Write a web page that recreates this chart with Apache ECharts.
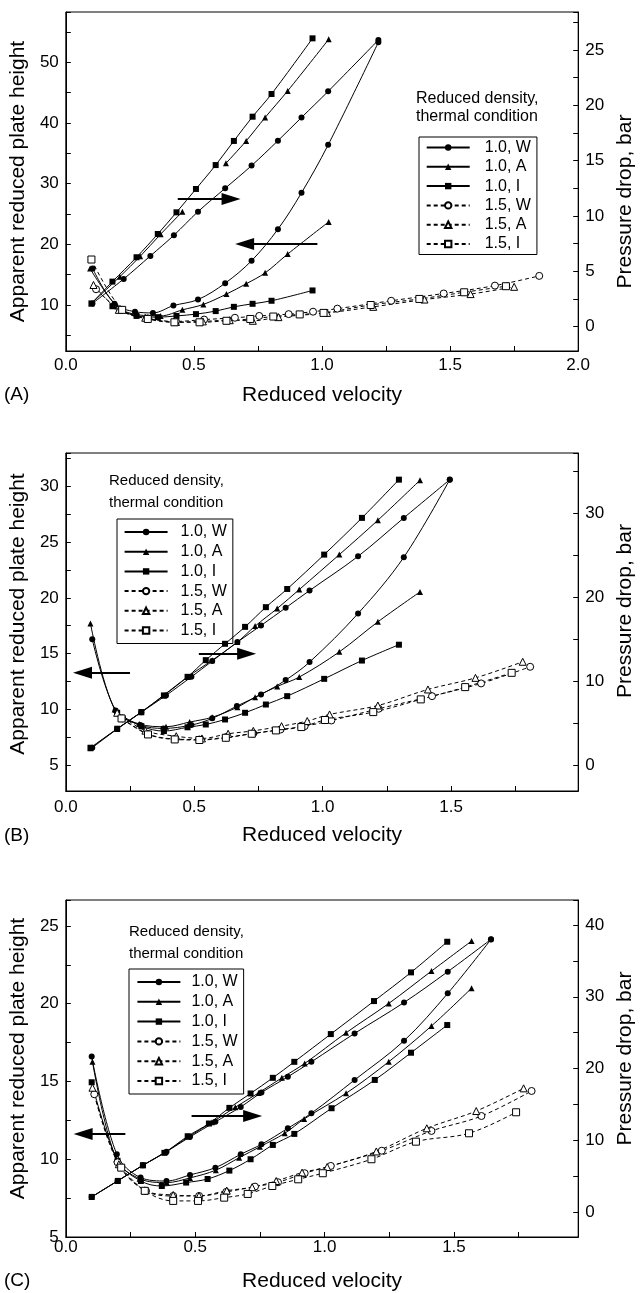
<!DOCTYPE html>
<html><head><meta charset="utf-8">
<script src="https://cdn.jsdelivr.net/npm/echarts@6/dist/echarts.min.js"></script>
<style>html,body{margin:0;padding:0;background:#fff}#c{width:644px;height:1293px}</style>
</head><body><div id="c"></div>
<script>
// ---------- DATA: panel A ----------
const A_H_10W = [[0.105,16.0],[0.19,10.2],[0.27,8.9],[0.34,8.7],[0.42,9.9],[0.516,10.9],[0.622,13.6],[0.725,17.3],[0.828,22.5],[0.92,28.5],[1.024,36.4],[1.22,53.3]];
const A_H_10A = [[0.095,16.0],[0.2,9.8],[0.28,8.4],[0.37,8.2],[0.455,9.2],[0.537,10.1],[0.627,11.8],[0.704,13.5],[0.778,15.3],[0.866,18.4],[1.026,23.7]];
const A_H_10I = [[0.182,9.8],[0.276,8.2],[0.359,8.0],[0.432,8.2],[0.508,8.5],[0.585,9.0],[0.656,9.7],[0.729,10.2],[0.803,10.7],[0.963,12.4]];
const A_P_10W = [[0.104,2.1],[0.226,4.31],[0.33,6.39],[0.422,8.26],[0.516,10.39],[0.622,12.5],[0.725,14.55],[0.828,16.8],[0.92,18.9],[1.024,21.26],[1.22,25.9]];
const A_P_10A = [[0.1,2.1],[0.211,4.52],[0.29,6.35],[0.37,8.35],[0.455,10.39],[0.54,null],[0.625,14.76],[0.704,16.78],[0.778,18.9],[0.866,21.3],[1.026,25.96]];
const A_P_10I = [[0.1,2.1],[0.182,4.07],[0.276,6.27],[0.359,8.37],[0.432,10.33],[0.508,12.44],[0.585,14.6],[0.656,16.78],[0.729,18.97],[0.803,21.02],[0.963,26.05]];
const A_H_15W = [[0.118,12.6],[0.21,9.3],[0.32,7.8],[0.43,7.3],[0.54,7.6],[0.66,7.9],[0.755,8.2],[0.87,8.5],[0.965,8.9],[1.06,9.4],[1.27,10.7],[1.475,11.9],[1.675,13.2],[1.848,14.8]];
const A_H_15A = [[0.108,13.3],[0.207,9.2],[0.31,7.9],[0.43,7.2],[0.535,7.3],[0.64,7.5],[0.73,7.4],[0.83,8.0],[1.02,8.7],[1.2,9.7],[1.4,10.9],[1.58,11.8],[1.75,13.0]];
const A_H_15I = [[0.1,17.5],[0.22,9.2],[0.32,7.7],[0.424,7.15],[0.522,7.15],[0.627,7.4],[0.72,7.7],[0.81,8.1],[0.913,8.45],[1.006,8.7],[1.19,10.0],[1.38,11.0],[1.555,12.1],[1.718,13.1]];
// ---------- DATA: panel B ----------
const B_H_10W = [[0.103,16.3],[0.194,9.9],[0.29,8.6],[0.38,8.3],[0.489,8.6],[0.57,9.2],[0.666,10.3],[0.76,11.34],[0.856,12.63],[0.949,14.24],[1.138,18.6],[1.316,23.64],[1.495,30.6]];
const B_H_10A = [[0.096,17.7],[0.19,10.0],[0.286,8.7],[0.39,8.45],[0.482,8.87],[0.57,9.3],[0.668,10.2],[0.737,11.1],[0.823,12.06],[0.909,12.9],[1.065,15.16],[1.215,17.85],[1.379,20.53]];
const B_H_10I = [[0.2,9.7],[0.294,8.5],[0.382,8.06],[0.474,8.4],[0.545,8.65],[0.62,9.1],[0.698,9.7],[0.779,10.44],[0.862,11.19],[1.006,12.74],[1.153,14.38],[1.297,15.8]];
const B_P_10W = [[0.103,2.06],[0.2,4.3],[0.294,6.3],[0.39,8.3],[0.489,10.52],[0.57,12.4],[0.668,14.66],[0.76,16.64],[0.856,18.75],[0.949,20.81],[1.138,24.9],[1.316,29.48],[1.495,34.04]];
const B_P_10A = [[0.096,2.0],[0.2,4.3],[0.294,6.3],[0.38,8.3],[0.474,10.5],[0.57,12.5],[0.668,14.66],[0.737,16.57],[0.823,18.67],[0.909,20.93],[1.065,25.1],[1.215,29.2],[1.379,33.97]];
const B_P_10I = [[0.096,2.06],[0.2,4.33],[0.294,6.32],[0.382,8.3],[0.474,10.52],[0.545,12.51],[0.62,14.46],[0.698,16.48],[0.779,18.83],[0.862,21.0],[1.006,25.1],[1.153,29.48],[1.297,34.04]];
const B_H_15W = [[0.22,9.2],[0.32,7.8],[0.424,7.35],[0.52,7.3],[0.623,7.5],[0.73,7.85],[0.836,8.2],[0.93,8.5],[1.034,9.01],[1.218,10.06],[1.426,11.19],[1.617,12.33],[1.808,13.82]];
const B_H_15A = [[0.2,9.7],[0.31,8.1],[0.43,7.6],[0.53,7.4],[0.632,7.82],[0.73,8.08],[0.84,8.5],[0.94,8.96],[1.027,9.55],[1.215,10.35],[1.41,11.79],[1.595,12.83],[1.779,14.27]];
const B_H_15I = [[0.217,9.19],[0.32,7.76],[0.424,7.31],[0.52,7.26],[0.623,7.46],[0.724,7.82],[0.818,8.12],[0.917,8.42],[1.009,9.05],[1.197,9.76],[1.382,10.9],[1.555,12.0],[1.736,13.28]];
// ---------- DATA: panel C ----------
const C_H_10W = [[0.1,16.6],[0.197,10.32],[0.289,8.82],[0.389,8.6],[0.48,8.99],[0.578,9.46],[0.676,10.32],[0.756,10.96],[0.858,11.99],[0.949,12.96],[1.116,15.1],[1.307,17.62],[1.476,20.67],[1.643,24.14]];
const C_H_10A = [[0.103,16.27],[0.195,10.0],[0.285,8.75],[0.39,8.5],[0.48,8.8],[0.58,9.3],[0.67,10.1],[0.75,10.8],[0.846,11.67],[0.921,12.59],[1.083,14.24],[1.248,16.27],[1.413,18.57],[1.568,21.0]];
const C_H_10I = [[0.1,14.95],[0.2,9.9],[0.29,8.6],[0.371,8.28],[0.465,8.5],[0.548,8.73],[0.632,9.27],[0.714,10.0],[0.8,10.92],[0.883,11.63],[1.027,13.28],[1.194,15.1],[1.334,16.85],[1.474,18.63]];
const C_P_10W = [[0.1,2.1],[0.2,4.33],[0.298,6.5],[0.389,8.4],[0.48,10.47],[0.578,12.56],[0.676,14.65],[0.756,16.65],[0.858,18.84],[0.949,20.93],[1.116,24.89],[1.307,29.2],[1.476,33.5],[1.643,38.0]];
const C_P_10A = [[0.1,2.1],[0.2,4.33],[0.298,6.5],[0.385,8.35],[0.475,10.5],[0.565,12.5],[0.655,14.6],[0.745,16.6],[0.835,18.7],[0.923,20.7],[1.083,24.98],[1.248,29.07],[1.413,33.58],[1.568,37.77]];
const C_P_10I = [[0.1,2.1],[0.201,4.33],[0.298,6.52],[0.381,8.24],[0.471,10.56],[0.553,12.33],[0.632,14.51],[0.714,16.52],[0.8,18.7],[0.883,20.93],[1.024,24.8],[1.191,29.4],[1.334,33.4],[1.474,37.67]];
const C_H_15W = [[0.11,14.18],[0.2,9.8],[0.31,7.96],[0.415,7.64],[0.515,7.64],[0.62,7.9],[0.731,8.24],[0.82,8.52],[0.923,9.1],[1.024,9.57],[1.221,10.55],[1.413,11.82],[1.606,12.78],[1.8,14.39]];
const C_H_15A = [[0.103,14.6],[0.205,9.68],[0.305,8.0],[0.415,7.7],[0.515,7.65],[0.622,7.98],[0.72,8.2],[0.813,8.6],[0.913,9.14],[1.01,9.5],[1.2,10.5],[1.395,11.99],[1.586,13.1],[1.769,14.56]];
const C_H_15I = [[0.214,9.46],[0.305,7.97],[0.415,7.32],[0.511,7.32],[0.612,7.53],[0.703,7.77],[0.798,8.28],[0.898,8.71],[0.993,9.1],[1.181,10.0],[1.353,11.13],[1.558,11.67],[1.74,13.02]];
// arrows: [xStart, xEndCentre, y] in left-axis units
const A_ARROWS = [[0.437,0.645,27.46],[0.982,0.698,20.05]];
const B_ARROWS = [[0.518,0.704,15.0],[0.25,0.065,13.28]];
const C_ARROWS = [[0.486,0.722,12.78],[0.23,0.067,11.63]];
const NAMES = ['1.0, W','1.0, A','1.0, I','1.5, W','1.5, A','1.5, I'];

const FONT = 'Liberation Sans, Arial, Helvetica, sans-serif';
const STY = {
  '1.0, W': {symbol:'circle', size:6, open:false, dash:false},
  '1.0, A': {symbol:'triangle', size:6, open:false, dash:false},
  '1.0, I': {symbol:'rect', size:6, open:false, dash:false},
  '1.5, W': {symbol:'circle', size:7, open:true, dash:true},
  '1.5, A': {symbol:'triangle', size:7, open:true, dash:true},
  '1.5, I': {symbol:'rect', size:7, open:true, dash:true}
};
const isMult = (v, s) => Math.abs(v / s - Math.round(v / s)) < 1e-6;

function mk(name, data, gi, yi) {
  const s = STY[name];
  return {
    type:'line', name, data, xAxisIndex:gi, yAxisIndex:yi, smooth:0.35,
    symbol:s.symbol, symbolSize:s.size, showSymbol:true, connectNulls:false,
    lineStyle:{color:'#000', width:1, type: s.dash ? [4,3] : 'solid'},
    itemStyle:{color: s.open ? '#fff' : '#000', borderColor:'#000', borderWidth: s.open ? 1 : 0},
    emphasis:{disabled:true}, z: s.open ? 3 : 2
  };
}
function arrows(arr) {
  return {
    silent:true, symbol:['none','triangle'], symbolSize:[1,14],
    lineStyle:{color:'#000', width:2, type:'solid'}, label:{show:false},
    emphasis:{disabled:true},
    data: arr.map(a => [{coord:[a[0], a[2]], symbol:'none'}, {coord:[a[1], a[2]], symbol:'triangle', symbolSize:[12,19]}])
  };
}
function xAx(gi, max, nameGap, margin) {
  return {
    type:'value', gridIndex:gi, position:'bottom', min:0, max:max, minInterval:0.25, maxInterval:0.25, splitNumber:8,
    axisLine:{show:true, onZero:false, lineStyle:{color:'#000', width:1}},
    axisTick:{show:true, inside:true, length:5, lineStyle:{color:'#000'}},
    axisLabel:{color:'#000', fontSize:17, fontFamily:FONT, margin:margin,
      formatter: v => isMult(v, 0.5) ? v.toFixed(1) : ''},
    splitLine:{show:false},
    name:'Reduced velocity', nameLocation:'middle', nameGap:nameGap,
    nameTextStyle:{color:'#000', fontSize:21, fontFamily:FONT}
  };
}
function yAx(gi, pos, min, max, tick, lab, name, nameGap, pad) {
  return {
    type:'value', gridIndex:gi, position:pos, min:min, max:max,
    minInterval:tick, maxInterval:tick, splitNumber:10,
    axisLine:{show:true, onZero:false, lineStyle:{color:'#000', width:1}},
    axisTick:{show:true, inside:true, length:5, lineStyle:{color:'#000'}},
    axisLabel:{color:'#000', fontSize:17, fontFamily:FONT, margin:7,
      formatter: v => isMult(v, lab) ? String(Math.round(v)) : ''},
    splitLine:{show:false},
    name:name, nameLocation:'middle', nameGap:nameGap,
    nameTextStyle:{color:'#000', fontSize:21, fontFamily:FONT, padding:pad}
  };
}
function legend(left, top, gap, pad, tpad) {
  return {
    data:NAMES, orient:'vertical', left:left, top:top, itemWidth:43, itemHeight:8, itemGap:gap,
    padding:pad, borderColor:'#000', borderWidth:1, selectedMode:false,
    lineStyle:{width:2},
    textStyle:{color:'#000', fontSize:16, fontFamily:FONT, lineHeight:15, padding:[0,0,0,tpad]}
  };
}
function head(left, top, lh, fs) {
  return {text:'Reduced density,\nthermal condition', left:left, top:top, padding:0,
    textStyle:{color:'#000', fontSize:fs, fontWeight:'normal', fontFamily:FONT, lineHeight:lh}};
}

const LNAME = 'Apparent reduced plate height';
const RNAME = 'Pressure drop, bar';

const series = [];
function panel(gi, H, P, arr) {
  const yl = gi * 2, yr = gi * 2 + 1;
  const s0 = mk('1.0, W', H[0], gi, yl); s0.markLine = arrows(arr); series.push(s0);
  series.push(mk('1.0, A', H[1], gi, yl));
  series.push(mk('1.0, I', H[2], gi, yl));
  series.push(mk('1.0, W', P[0], gi, yr));
  series.push(mk('1.0, A', P[1], gi, yr));
  series.push(mk('1.0, I', P[2], gi, yr));
  series.push(mk('1.5, W', H[3], gi, yl));
  series.push(mk('1.5, A', H[4], gi, yl));
  series.push(mk('1.5, I', H[5], gi, yl));
}
panel(0, [A_H_10W, A_H_10A, A_H_10I, A_H_15W, A_H_15A, A_H_15I], [A_P_10W, A_P_10A, A_P_10I], A_ARROWS);
panel(1, [B_H_10W, B_H_10A, B_H_10I, B_H_15W, B_H_15A, B_H_15I], [B_P_10W, B_P_10A, B_P_10I], B_ARROWS);
panel(2, [C_H_10W, C_H_10A, C_H_10I, C_H_15W, C_H_15A, C_H_15I], [C_P_10W, C_P_10A, C_P_10I], C_ARROWS);

const option = {
  animation:false, backgroundColor:'#fff',
  grid:[
    {left:64, top:12, width:530, height:339, show:true, borderColor:'#000', borderWidth:1, backgroundColor:'transparent'},
    {left:65, top:453, width:530, height:338, show:true, borderColor:'#000', borderWidth:1, backgroundColor:'transparent'},
    {left:65, top:900, width:525, height:337, show:true, borderColor:'#000', borderWidth:1, backgroundColor:'transparent'}
  ],
  xAxis:[ xAx(0, 2.0, 34, 6), xAx(1, 1.995, 34, 8), xAx(2, 1.98, 34, 2) ],
  yAxis:[
    yAx(0, 'left', 2.42, 58.3, 5, 10, LNAME, 33, [0,0,0,0]),
    yAx(0, 'right', -2.2, 28.43, 2.5, 5, RNAME, 28, [0,40,0,0]),
    yAx(1, 'left', 2.69, 32.98, 2.5, 5, LNAME, 33, [0,0,0,16]),
    yAx(1, 'right', -3.1, 37.22, 5, 10, RNAME, 28, [0,0,0,22]),
    yAx(2, 'left', 5.0, 26.67, 2.5, 5, LNAME, 33, [0,0,0,20]),
    yAx(2, 'right', -3.49, 43.49, 5, 10, RNAME, 28, [0,0,0,20])
  ],
  title:[ head(416, 89, 18.4, 16), head(109, 470.5, 21.7, 15), head(129, 920.5, 22.3, 15) ],
  legend:[
    legend(419, 137, 3.3, [2.5,6,2.5,6.7], 10),
    legend(117, 519, 3.7, [5,6,5,6.6], 8),
    legend(129, 969, 3.8, [5,6,5,7.4], 6)
  ],
  graphic:[
    {type:'text', left:4, top:385, style:{text:'(A)', font:'19px ' + FONT, fill:'#000'}},
    {type:'text', left:4, top:826, style:{text:'(B)', font:'19px ' + FONT, fill:'#000'}},
    {type:'text', left:4, top:1271, style:{text:'(C)', font:'19px ' + FONT, fill:'#000'}}
  ],
  series:series
};
const chart = echarts.init(document.getElementById('c'), null, {renderer:'canvas'});
chart.setOption(option);
</script></body></html>
